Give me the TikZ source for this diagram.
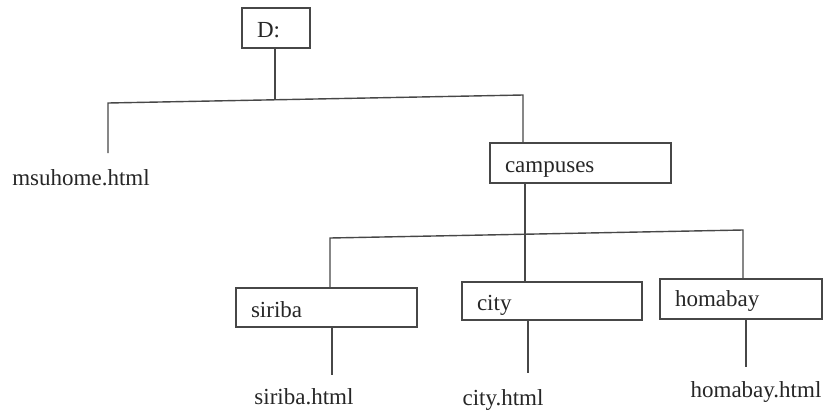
\documentclass[tikz,border=0pt]{standalone}
\usepackage{fontspec}
\setmainfont{Liberation Serif}
\begin{document}
\begin{tikzpicture}[x=1pt,y=-1pt,
  ln/.style={line width=1.4pt, draw=black!72},
  dirbox/.style={draw=black!72, line width=1.5pt, inner xsep=15pt, inner ysep=0pt,
    align=left, text height=20pt, text depth=1pt,
    font=\fontsize{23}{27}\selectfont, text=black!85},
  leaf/.style={anchor=base, inner sep=0pt, font=\fontsize{23}{27}\selectfont, text=black!85}]
\useasboundingbox (0,0) rectangle (827,413);

% directory boxes
\node[dirbox, text width=38pt,  minimum height=40pt] (D)       at (276,28)    {D:};
\node[dirbox, text width=151pt, minimum height=40pt] (camp)    at (580.5,163) {campuses};
\node[dirbox, text width=151pt, minimum height=39pt] (siriba)  at (326.5,307.5) {siriba};
\node[dirbox, text width=150pt, minimum height=38pt] (city)    at (552,301)   {city};
\node[dirbox, text width=132pt, minimum height=40pt, text height=18pt, text depth=3pt] (homabay) at (741,299) {homabay};

% files
\node[leaf] (msu)      at (81,185)  {msuhome.html};
\node[leaf] (sirihtml) at (304,404) {siriba.html};
\node[leaf] (cityhtml) at (503,405) {city.html};
\node[leaf] (homahtml) at (756,397) {homabay.html};

% junction and end points
\coordinate (j0) at (275,99);
\coordinate (hL) at (108,103);
\coordinate (hR) at (523,95);
\coordinate (e0) at (108,153);
\coordinate (k0) at (525,234);
\coordinate (gL) at (330,238);
\coordinate (gR) at (743,230);
\coordinate (e1) at (332,375);
\coordinate (e2) at (528,373);
\coordinate (e3) at (746,367);

% connectors
\draw[ln] (D.south -| j0) -- (j0);
\draw[ln] (e0) -- (hL) -- (hR) -- (camp.north -| hR);
\draw[ln] (camp.south -| k0) -- (city.north -| k0);
\draw[ln] (siriba.north -| gL) -- (gL) -- (gR) -- (homabay.north -| gR);
\draw[ln] (siriba.south -| e1) -- (e1);
\draw[ln] (city.south -| e2) -- (e2);
\draw[ln] (homabay.south -| e3) -- (e3);
\end{tikzpicture}
\end{document}
